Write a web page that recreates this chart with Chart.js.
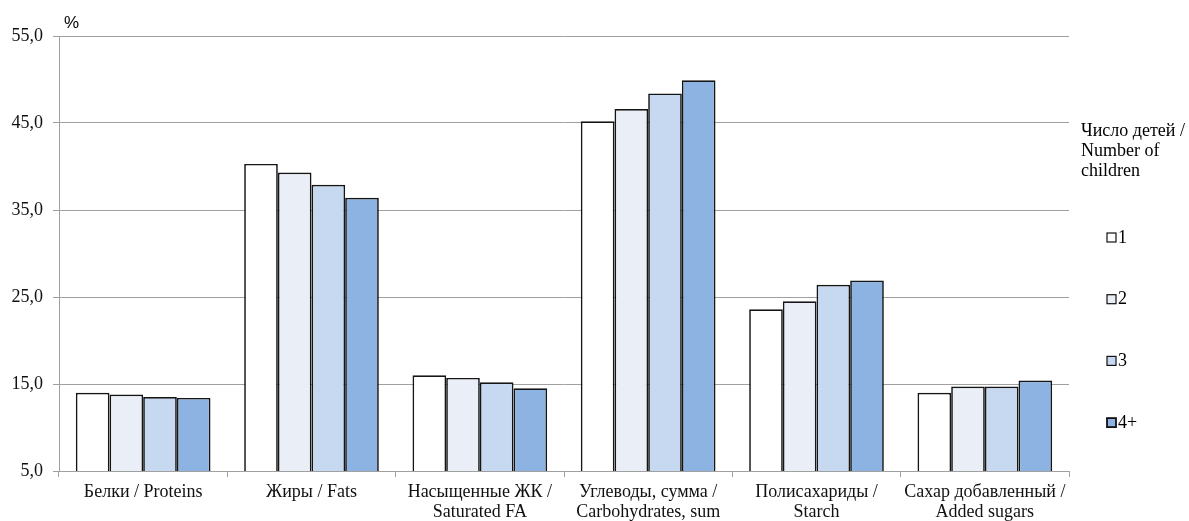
<!DOCTYPE html>
<html>
<head>
<meta charset="utf-8">
<script src="https://cdn.jsdelivr.net/npm/chart.js@4.4.1/dist/chart.umd.min.js"></script>
<style>
  html, body { margin: 0; padding: 0; background: #fff; }
  #wrap { width: 1189px; height: 521px; }
</style>
</head>
<body>
<div id="wrap"><canvas id="chart"></canvas></div>
<script>
const categories = [
    ['Белки / Proteins'],
    ['Жиры / Fats'],
    ['Насыщенные ЖК /', 'Saturated FA'],
    ['Углеводы, сумма /', 'Carbohydrates, sum'],
    ['Полисахариды /', 'Starch'],
    ['Сахар добавленный /', 'Added sugars']
];
const seriesNames = ['1', '2', '3', '4+'];
const kids1 = [14.0, 40.3, 16.0, 45.2, 23.6, 14.0];
const kids2 = [13.8, 39.3, 15.7, 46.6, 24.5, 14.7];
const kids3 = [13.5, 37.9, 15.2, 48.4, 26.4, 14.7];
const kids4 = [13.4, 36.4, 14.5, 49.9, 26.9, 15.4];
const yTicks = [5, 15, 25, 35, 45, 55];
const legendTitle = ['Число детей /', 'Number of', 'children'];
const unitLabel = '%';

const fills = ['#ffffff', '#e9eef7', '#c6d9f1', '#8db3e2'];
const serif = "'Liberation Serif', 'Times New Roman', serif";

// legend + "%" drawn by hand, title needs several lines
const sideLegend = {
    id: 'sideLegend',
    afterDraw(chart) {
        const ctx = chart.ctx;
        ctx.save();
        ctx.fillStyle = '#000';
        ctx.font = "17px 'Liberation Sans', Arial, sans-serif";
        ctx.textBaseline = 'middle';
        ctx.fillText(unitLabel, 64, 23);

        ctx.font = '18px ' + serif;
        legendTitle.forEach((t, i) => ctx.fillText(t, 1081, 131 + i * 20));

        chart.data.datasets.forEach((ds, i) => {
            const y = 237 + i * 61.7;
            ctx.fillStyle = ds.backgroundColor;
            ctx.fillRect(1107, y - 4, 9, 9);
            ctx.strokeStyle = '#111';
            ctx.lineWidth = i === 3 ? 1.8 : 1.2;
            ctx.strokeRect(1107, y - 4, 9, 9);
            ctx.fillStyle = '#000';
            ctx.fillText(ds.label, 1118, y + 1);
        });
        ctx.restore();
    }
};

const series = [kids1, kids2, kids3, kids4];

new Chart(document.getElementById('chart'), {
    type: 'bar',
    data: {
        labels: categories,
        datasets: series.map((vals, i) => ({
            label: seriesNames[i],
            data: vals,
            backgroundColor: fills[i],
            borderColor: '#151515',
            borderWidth: 1.7,
            categoryPercentage: 0.8,
            barPercentage: 1.0
        }))
    },
    options: {
        responsive: true,
        maintainAspectRatio: false,
        animation: false,
        layout: { padding: { top: 36, right: 120, left: 0, bottom: 0 } },
        plugins: { legend: { display: false }, tooltip: { enabled: false } },
        scales: {
            x: {
                offset: true,
                grid: { offset: true, drawOnChartArea: false, drawTicks: true, tickLength: 6, color: '#a0a0a0' },
                border: { color: '#a0a0a0', width: 1 },
                ticks: {
                    color: '#111',
                    padding: 5,
                    maxRotation: 0,
                    autoSkip: false,
                    font: { family: serif, size: 18, lineHeight: 1.12 }
                },
                afterFit(scale) { scale.height = 50; }
            },
            y: {
                min: 5,
                max: 55,
                afterBuildTicks(scale) { scale.ticks = yTicks.map(v => ({ value: v })); },
                grid: { color: '#a0a0a0', lineWidth: 1, tickLength: 6 },
                border: { color: '#a0a0a0', width: 1 },
                ticks: {
                    color: '#111',
                    padding: 10,
                    font: { family: serif, size: 18 },
                    callback: v => v.toFixed(1).replace('.', ',')
                },
                afterFit(scale) { scale.width = 59; }
            }
        }
    },
    plugins: [sideLegend]
});
</script>
</body>
</html>
